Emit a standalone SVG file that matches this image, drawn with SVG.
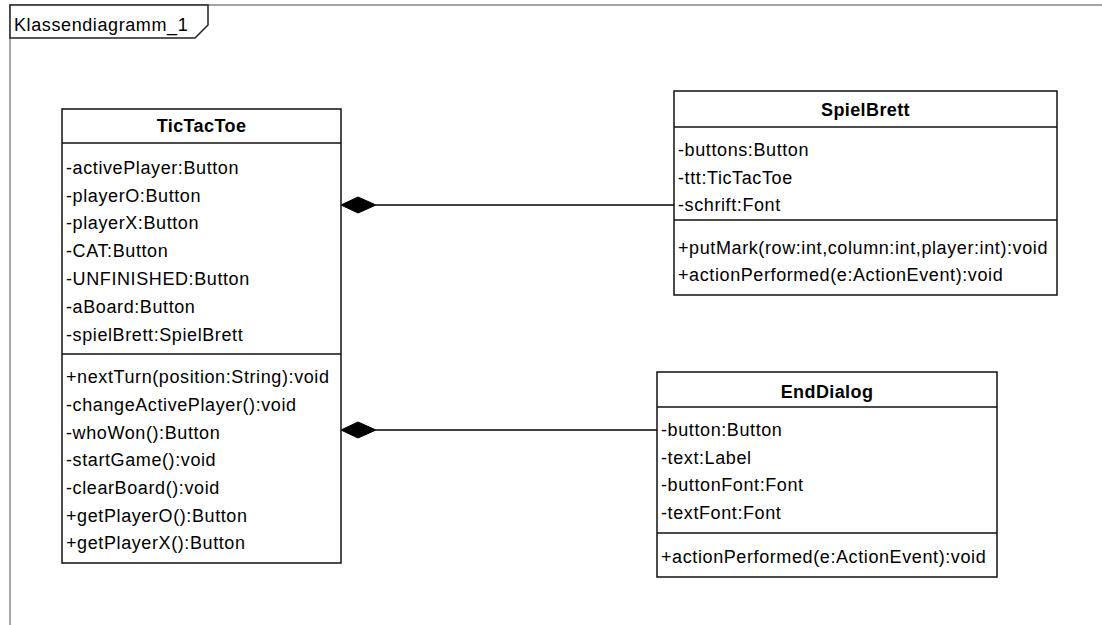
<svg xmlns="http://www.w3.org/2000/svg" width="1102" height="625" viewBox="0 0 1102 625">
<style>
.t{font-family:"Liberation Sans",Arial,sans-serif;font-size:18px;letter-spacing:0.6px;fill:#000}
.b{font-family:"Liberation Sans",Arial,sans-serif;font-size:18px;font-weight:bold;letter-spacing:0.4px;fill:#000;text-anchor:middle}
.box{fill:#fff;stroke:#111;stroke-width:1.5}
.div{stroke:#111;stroke-width:1.5}
.frame{fill:none;stroke:#888;stroke-width:1.5}
.con{stroke:#000;stroke-width:1.5;fill:none}
.dia{fill:#000;stroke:#000;stroke-width:1}
</style>
<rect width="1102" height="625" fill="#fff"/>
<g id="frame">
<path class="frame" d="M10,625 V5 H1102"/>
<path d="M10,5 H208 V25 L195,38 H10 Z" fill="#fff" stroke="#222" stroke-width="1.5"/>
<text class="t" x="14" y="31">Klassendiagramm_1</text>
</g>
<g id="connectors">
<line class="con" x1="376" y1="205" x2="674" y2="205"/>
<polygon class="dia" points="341,205 358,197 376,205 358,213"/>
<line class="con" x1="376" y1="430" x2="657" y2="430"/>
<polygon class="dia" points="341,430 358,422 376,430 358,438"/>
</g>
<g id="TicTacToe">
<rect class="box" x="62" y="109" width="279" height="454"/>
<line class="div" x1="62" y1="143" x2="341" y2="143"/>
<line class="div" x1="62" y1="354" x2="341" y2="354"/>
<text class="b" x="201.5" y="132">TicTacToe</text>
<text class="t" x="66" y="174">-activePlayer:Button</text>
<text class="t" x="66" y="201.5">-playerO:Button</text>
<text class="t" x="66" y="229">-playerX:Button</text>
<text class="t" x="66" y="257">-CAT:Button</text>
<text class="t" x="66" y="285">-UNFINISHED:Button</text>
<text class="t" x="66" y="313">-aBoard:Button</text>
<text class="t" x="66" y="341">-spielBrett:SpielBrett</text>
<text class="t" x="66" y="383">+nextTurn(position:String):void</text>
<text class="t" x="66" y="411">-changeActivePlayer():void</text>
<text class="t" x="66" y="438.5">-whoWon():Button</text>
<text class="t" x="66" y="466">-startGame():void</text>
<text class="t" x="66" y="494">-clearBoard():void</text>
<text class="t" x="66" y="521.5">+getPlayerO():Button</text>
<text class="t" x="66" y="549">+getPlayerX():Button</text>
</g>
<g id="SpielBrett">
<rect class="box" x="674" y="91" width="383" height="204"/>
<line class="div" x1="674" y1="127" x2="1057" y2="127"/>
<line class="div" x1="674" y1="220" x2="1057" y2="220"/>
<text class="b" x="865.5" y="116">SpielBrett</text>
<text class="t" x="678" y="156">-buttons:Button</text>
<text class="t" x="678" y="184">-ttt:TicTacToe</text>
<text class="t" x="678" y="211">-schrift:Font</text>
<text class="t" x="678" y="254">+putMark(row:int,column:int,player:int):void</text>
<text class="t" x="678" y="281">+actionPerformed(e:ActionEvent):void</text>
</g>
<g id="EndDialog">
<rect class="box" x="657" y="372" width="340" height="205"/>
<line class="div" x1="657" y1="407" x2="997" y2="407"/>
<line class="div" x1="657" y1="533" x2="997" y2="533"/>
<text class="b" x="827" y="398">EndDialog</text>
<text class="t" x="661" y="436">-button:Button</text>
<text class="t" x="661" y="464">-text:Label</text>
<text class="t" x="661" y="491">-buttonFont:Font</text>
<text class="t" x="661" y="519">-textFont:Font</text>
<text class="t" x="661" y="563">+actionPerformed(e:ActionEvent):void</text>
</g>
</svg>
